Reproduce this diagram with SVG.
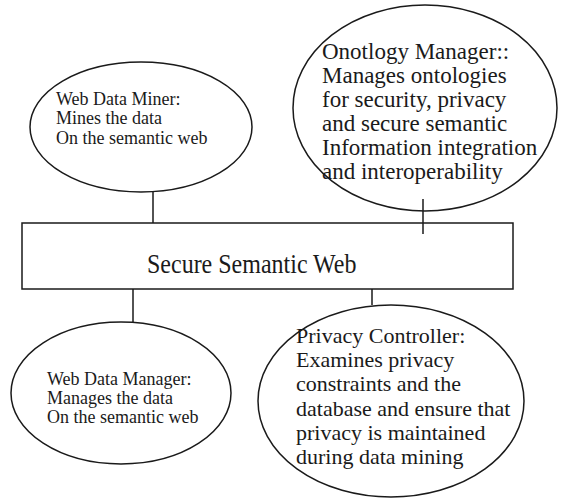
<svg xmlns="http://www.w3.org/2000/svg" width="570" height="498" viewBox="0 0 570 498">
  <style>
    .shape { fill: #ffffff; stroke: #1a1a1a; stroke-width: 1.5; }
    .link { stroke: #1a1a1a; stroke-width: 1.5; fill: none; }
    .label { font-family: "Liberation Serif", "Times New Roman", serif; fill: #1a1a1a; }
    .small { font-size: 18px; }
    .ontology { font-size: 23px; }
    .privacy { font-size: 22px; }
    .title { font-size: 24px; }
  </style>
  <rect width="570" height="498" fill="#ffffff"/>

  <g id="web-data-miner">
    <ellipse class="shape" cx="141" cy="127" rx="111" ry="65"/>
    <text class="label small">
      <tspan x="56" y="105">Web Data Miner:</tspan>
      <tspan x="56" y="124">Mines the data</tspan>
      <tspan x="56" y="144">On the semantic web</tspan>
    </text>
  </g>

  <g id="ontology-manager">
    <ellipse class="shape" cx="425" cy="108" rx="132" ry="103"/>
    <text class="label ontology">
      <tspan x="322" y="59">Onotlogy Manager::</tspan>
      <tspan x="322" y="83">Manages ontologies</tspan>
      <tspan x="322" y="107">for security, privacy</tspan>
      <tspan x="322" y="131">and secure semantic</tspan>
      <tspan x="322" y="155">Information integration</tspan>
      <tspan x="322" y="179">and interoperability</tspan>
    </text>
  </g>

  <g id="secure-semantic-web">
    <rect class="shape" x="22" y="223" width="491" height="66"/>
    <text class="label title" transform="translate(147,273) scale(1,1.1)" x="0" y="0">Secure Semantic Web</text>
  </g>

  <g id="web-data-manager">
    <ellipse class="shape" cx="121" cy="393" rx="110" ry="71"/>
    <text class="label small">
      <tspan x="47" y="385">Web Data Manager:</tspan>
      <tspan x="47" y="404">Manages the data</tspan>
      <tspan x="47" y="423">On the semantic web</tspan>
    </text>
  </g>

  <g id="privacy-controller">
    <ellipse class="shape" cx="391" cy="401" rx="133" ry="96"/>
    <text class="label privacy">
      <tspan x="296" y="343">Privacy Controller:</tspan>
      <tspan x="296" y="367">Examines privacy</tspan>
      <tspan x="296" y="391">constraints and the</tspan>
      <tspan x="296" y="416">database and ensure that</tspan>
      <tspan x="296" y="440">privacy is maintained</tspan>
      <tspan x="296" y="464">during data mining</tspan>
    </text>
  </g>

  <!-- connectors between the ellipses and the central box -->
  <g id="connectors">
    <line class="link" x1="153" y1="191" x2="153" y2="223"/>
    <line class="link" x1="423" y1="199" x2="423" y2="234"/>
    <line class="link" x1="133" y1="289" x2="133" y2="322"/>
    <line class="link" x1="372" y1="289" x2="372" y2="305"/>
  </g>
</svg>
